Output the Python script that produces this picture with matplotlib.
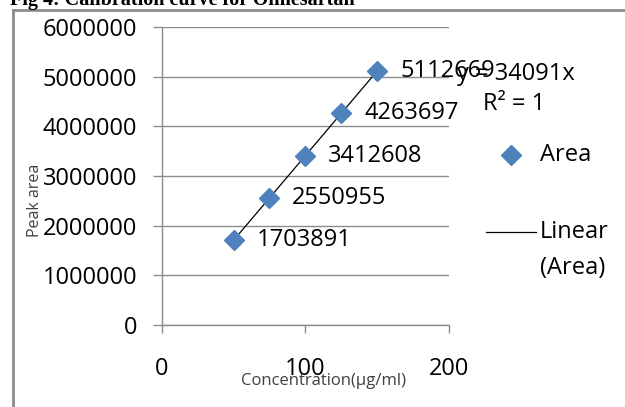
import matplotlib
matplotlib.use("Agg")
import matplotlib.pyplot as plt
from matplotlib.lines import Line2D
import numpy as np

# Data
conc = [50, 75, 100, 125, 150]
area = [1703891, 2550955, 3412608, 4263697, 5112669]
slope = 34091
x_ticks = [0, 100, 200]
y_ticks = [0, 1000000, 2000000, 3000000, 4000000, 5000000, 6000000]

W, H = 625, 407
fig = plt.figure(figsize=(W / 100, H / 100), dpi=100)
FONT = "Open Sans"
plt.rcParams['font.family'] = [FONT, 'DejaVu Sans']

ax = fig.add_axes([161.7 / W, 1 - 325 / H, (449 - 161.7) / W, (325 - 27) / H])
grid_c = "#8c8c8c"
ax.set_xlim(0, 200)
ax.set_ylim(0, 6000000)
ax.set_xticks(x_ticks)
ax.set_yticks(y_ticks)
ax.set_xticklabels([str(v) for v in x_ticks])
ax.set_yticklabels([str(v) for v in y_ticks])
for s in ["top", "right"]:
    ax.spines[s].set_visible(False)
for s in ["left", "bottom"]:
    ax.spines[s].set_color(grid_c)
    ax.spines[s].set_linewidth(1.0)
ax.yaxis.grid(True, color=grid_c, linewidth=1.0)
ax.set_axisbelow(True)
ax.tick_params(axis="x", direction="out", length=5.8, width=1.0, color=grid_c,
               pad=17, labelsize=17, labelcolor="#000000")
ax.tick_params(axis="y", direction="out", length=6.5, width=1.0, color=grid_c,
               pad=11, labelsize=17, labelcolor="#000000")
for lab in ax.get_xticklabels() + ax.get_yticklabels():
    lab.set_family(FONT)

# trendline
xt = np.array([min(conc), max(conc)])
ax.plot(xt, slope * xt, color="#000000", linewidth=0.9, zorder=2)
# points
ax.plot(conc, area, linestyle="none", marker="D", markersize=10.5,
        color="#4f81bd", markeredgecolor="#4f81bd", zorder=3)
for xv, yv in zip(conc, area):
    ax.annotate(str(yv), (xv, yv), xytext=(16.5, 0), textcoords="offset points",
                ha="left", va="center", fontsize=17, family=FONT, color="#000000")

# equation text
fig.text(457 / W, 1 - 74 / H, "y = 34091x", fontsize=17, family=FONT,
         ha="left", va="center", color="#000000")
fig.text(483 / W, 1 - 104 / H, "R² = 1", fontsize=17, family=FONT,
         ha="left", va="center", color="#000000")

# axis titles
fig.text(35 / W, 1 - 200 / H, "Peak area", rotation=90, fontsize=11.5,
         family=FONT, ha="center", va="center", color="#404040")
fig.text(324 / W, 1 - 381 / H, "Concentration(µg/ml)", fontsize=12,
         family=FONT, ha="center", va="center", color="#404040")

# legend (manual)
fig.add_artist(Line2D([511 / W], [1 - 155 / H], transform=fig.transFigure,
                      marker="D", markersize=10, linestyle="none",
                      color="#4f81bd"))
fig.text(540 / W, 1 - 155 / H, "Area", fontsize=17, family=FONT,
         ha="left", va="center", color="#000000")
fig.add_artist(Line2D([486 / W, 536 / W], [1 - 232 / H, 1 - 232 / H],
                      transform=fig.transFigure, color="#000000", linewidth=0.9))
fig.text(540 / W, 1 - 232 / H, "Linear", fontsize=17, family=FONT,
         ha="left", va="center", color="#000000")
fig.text(540 / W, 1 - 268 / H, "(Area)", fontsize=17, family=FONT,
         ha="left", va="center", color="#000000")

# frame
fig.add_artist(Line2D([13 / W, 13 / W], [0, 1 - 10 / H], transform=fig.transFigure,
                      color="#8c8c8c", linewidth=2.0))
fig.add_artist(Line2D([13 / W, 1], [1 - 10 / H, 1 - 10 / H], transform=fig.transFigure,
                      color="#8c8c8c", linewidth=2.0))

# clipped title
fig.text(10 / W, 1 - 5 / H, "Fig 4: Calibration curve for Olmesartan",
         fontsize=14.5, family="Liberation Serif", fontweight="bold",
         ha="left", va="baseline", color="#000000")

fig.savefig("out.png", dpi=100)
